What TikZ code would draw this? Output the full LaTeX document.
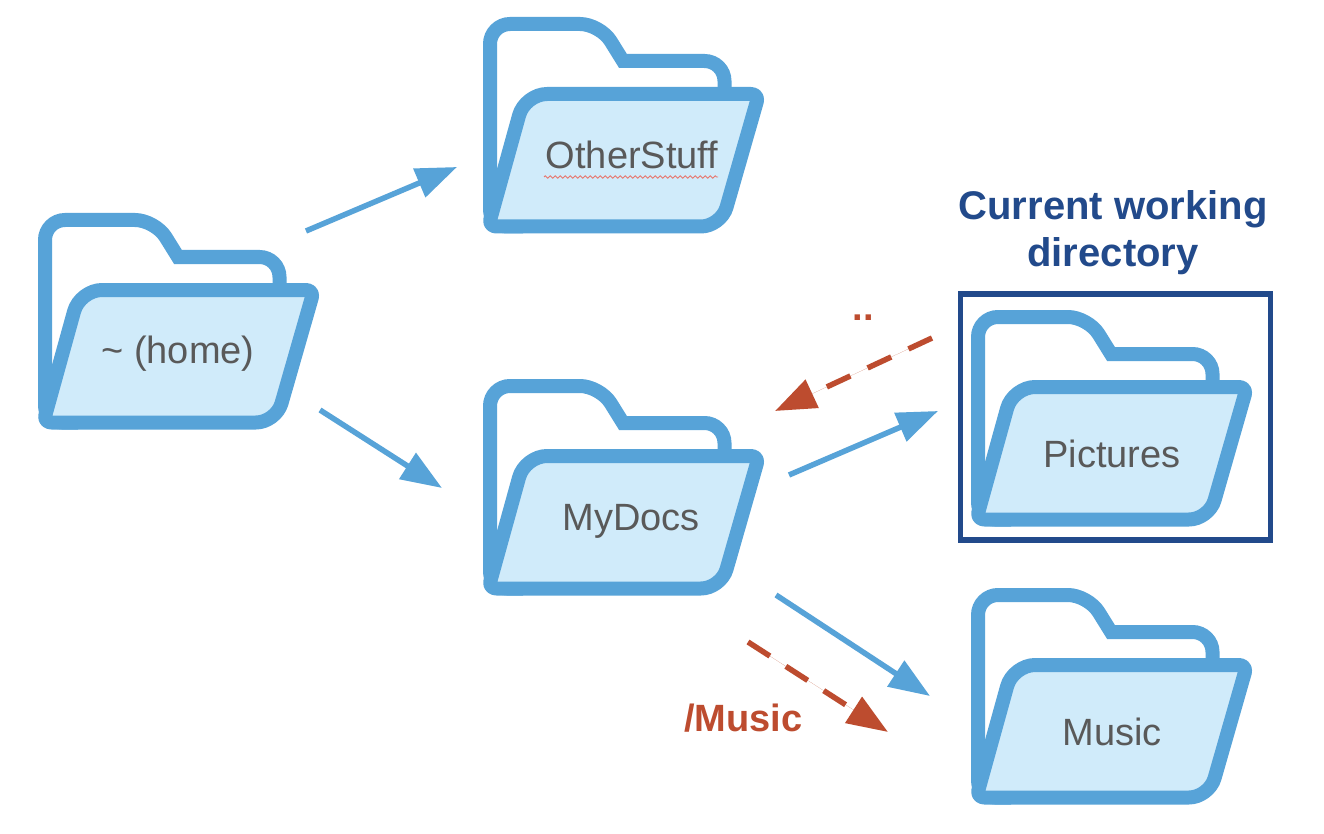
\documentclass[tikz,border=0pt]{standalone}
\usepackage{fontspec}
\setmainfont{Liberation Sans}
\usetikzlibrary{arrows.meta,decorations.pathmorphing}
\definecolor{fblue}{HTML}{57A3D8}
\definecolor{ffill}{HTML}{D0EBFA}
\definecolor{fred}{HTML}{BD4C2F}
\definecolor{fnavy}{HTML}{224A8B}
\definecolor{ftext}{HTML}{595959}
\definecolor{fsquig}{HTML}{E8766D}
\tikzset{
  folder/.pic={
    \draw[fblue,line width=14pt]
      (40,209.5) [rounded corners=17pt] -- (7,209.5) [rounded corners=20pt] -- (7,7) -- (117,7) [sharp corners] -- (140,44) [rounded corners=20pt] -- (241.5,44) [sharp corners] -- (241.5,80);
    \draw[fblue,fill=ffill,line width=14pt,line join=round]
      (150,77) [rounded corners=8pt] -- (276,77) [rounded corners=20pt] -- (238,209.5) [rounded corners=8pt] -- (5.3,209.5) [rounded corners=22pt] -- (42,77) [sharp corners] -- cycle;
  },
  lbl/.style={anchor=base,text=ftext,font=\fontsize{38}{44}\selectfont,inner sep=0pt},
  redlbl/.style={anchor=base,text=fred,font=\fontsize{38}{44}\selectfont\bfseries,inner sep=0pt},
  navylbl/.style={anchor=base,text=fnavy,font=\fontsize{40}{46}\selectfont\bfseries,inner sep=0pt},
  bluearrow/.style={draw=fblue,fill=fblue,line width=5.5pt,-{Triangle[length=41pt,width=30pt]}},
  redarrow/.style={draw=fred,fill=fred,line width=5.5pt,dash pattern=on 26pt off 19pt,-{Triangle[length=41pt,width=30pt]}},
}
\begin{document}
\begin{tikzpicture}[x=1pt,y=-1pt]
\useasboundingbox (0,0) rectangle (1324,834);
\fill[white] (0,0) rectangle (1324,834);
\draw[fnavy,line width=5.5pt] (960.5,294) rectangle (1270.5,540);
\pic (fhome) at (38,213) {folder};
\pic (fother) at (483,17) {folder};
\pic (fdocs) at (483,379) {folder};
\pic (fpics) at (971,310) {folder};
\pic (fmusic) at (971,588) {folder};
\node[lbl] (lhome) at (178,363) {\textasciitilde{} (home)};
\node[lbl] (lother) at (632,169) {OtherStuff};
\node[lbl] (ldocs) at (631,530) {MyDocs};
\node[lbl] (lpics) at (1112,467) {Pictures};
\node[lbl] (lmusic) at (1112,745) {Music};
\coordinate (sqa) at (544,177);
\coordinate (sqb) at (718,177);
\draw[fsquig,line width=0.8pt,decorate,decoration={zigzag,amplitude=1.2pt,segment length=5pt}] (sqa) -- (sqb);
\node[navylbl] (cwd1) at (1113,220) {Current working};
\node[navylbl] (cwd2) at (1113,266) {directory};
\node[redlbl] (updots) at (863,320) {..};
\node[redlbl] (rmusic) at (743.5,731) {/Music};
\coordinate (a1) at (306,231); \coordinate (a1e) at (457,167);
\coordinate (a2) at (320,410); \coordinate (a2e) at (442,488);
\coordinate (a3) at (789,475); \coordinate (a3e) at (938,411);
\coordinate (a4) at (776,595); \coordinate (a4e) at (930,696);
\coordinate (r1) at (932,338); \coordinate (r1e) at (775,411);
\coordinate (r2) at (748,642); \coordinate (r2e) at (888,732);
\draw[bluearrow] (a1) -- (a1e);
\draw[bluearrow] (a2) -- (a2e);
\draw[bluearrow] (a3) -- (a3e);
\draw[bluearrow] (a4) -- (a4e);
\draw[redarrow] (r1) -- (r1e);
\draw[redarrow] (r2) -- (r2e);
\end{tikzpicture}
\end{document}
